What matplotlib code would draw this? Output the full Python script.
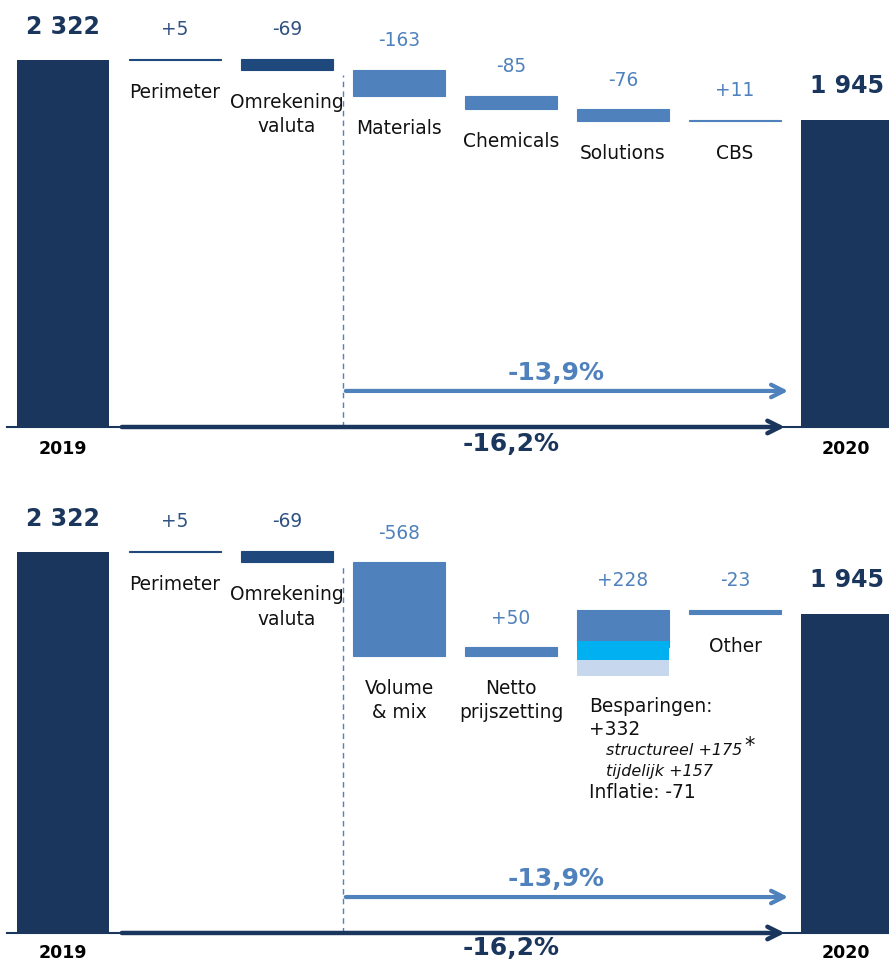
"""Omzetbrug 2019 -> 2020: twee waterfall-panelen (per segment / per driver)."""
import matplotlib
matplotlib.use("Agg")
import matplotlib.pyplot as plt

NAVY = "#1b365d"
NAVY2 = "#1f497d"
BLUE = "#4f81bd"
CYAN = "#00b0f0"
PALE = "#c6d7ee"

start_val, end_val = 2322, 1945
start_lbl, end_lbl = "2 322", "1 945"
years = ["2019", "2020"]

# paneel 1: per segment
top_cats = ["Perimeter", "Omrekening\nvaluta", "Materials", "Chemicals", "Solutions", "CBS"]
top_deltas = [5, -69, -163, -85, -76, 11]
top_delta_lbls = ["+5", "-69", "-163", "-85", "-76", "+11"]
top_colors = [NAVY2, NAVY2, BLUE, BLUE, BLUE, BLUE]

# paneel 2: per driver
bot_cats = ["Perimeter", "Omrekening\nvaluta", "Volume\n& mix", "Netto\nprijszetting", "", "Other"]
bot_deltas = [5, -69, -568, 50, 228, -23]
bot_delta_lbls = ["+5", "-69", "-568", "+50", "+228", "-23"]
bot_colors = [NAVY2, NAVY2, BLUE, BLUE, BLUE, BLUE]
# opsplitsing onder de +228 balk (geschat uit de figuur)
split_vals = [189, 116, 98]
split_colors = [BLUE, CYAN, PALE]

pct_org, pct_tot = "-13,9%", "-16,2%"

W = 0.83
FS = 13.4


def panel(ax, cats, deltas, dlbls, colors, ylim, dash_top, arrow_y, pct_y, tot_y, year_y):
    ax.set_xlim(-0.5625, 7.375)
    ax.set_ylim(*ylim)
    ax.axis("off")

    ax.bar(0, start_val, W, color=NAVY, zorder=3)
    ax.bar(7, end_val, W, color=NAVY, zorder=3)
    for x, v, lbl in [(0, start_val, start_lbl), (7, end_val, end_lbl)]:
        ax.annotate(lbl, (x, v), xytext=(0, 24), textcoords="offset points",
                    ha="center", va="center", fontsize=17, fontweight="bold", color=NAVY)

    level = start_val
    tops = []
    for i, (c, d, lbl, col) in enumerate(zip(cats, deltas, dlbls, colors)):
        x = i + 1
        lo, hi = min(level, level + d), max(level, level + d)
        ax.bar(x, hi - lo, W, bottom=lo, color=col, edgecolor=col, lw=0.8, zorder=3)
        ax.annotate(lbl, (x, hi), xytext=(0, 21), textcoords="offset points",
                    ha="center", va="center", fontsize=FS, color=col if col == BLUE else "#2f5283")
        if c:
            ax.annotate(c, (x, lo), xytext=(0, -16.5), textcoords="offset points",
                        ha="center", va="top", fontsize=FS, color="#111111", linespacing=1.35)
        tops.append((lo, hi))
        level += d

    # as + pijlen
    ax.plot([-0.5, 7.4], [0, 0], color=NAVY, lw=1.5, zorder=2)
    ax.annotate("", xy=(6.47, 0), xytext=(0.5, 0),
                arrowprops=dict(arrowstyle="->,head_length=0.9,head_width=0.45", color=NAVY, lw=3.2),
                zorder=4)
    ax.plot([2.5, 2.5], [0, dash_top], color=BLUE, lw=1, ls=(0, (4, 3)), zorder=2)
    ax.annotate("", xy=(6.5, arrow_y), xytext=(2.5, arrow_y),
                arrowprops=dict(arrowstyle="->,head_length=0.9,head_width=0.45", color=BLUE, lw=3),
                zorder=4)
    ax.text(4.4, pct_y, pct_org, ha="center", va="center", fontsize=18,
            fontweight="bold", color=BLUE)
    ax.text(4.0, tot_y, pct_tot, ha="center", va="center", fontsize=18,
            fontweight="bold", color=NAVY)
    ax.text(0.0, year_y, years[0], ha="center", va="center", fontsize=12.5,
            fontweight="bold", color="black")
    ax.text(6.99, year_y, years[1], ha="center", va="center", fontsize=12.5,
            fontweight="bold", color="black")
    return tops


fig = plt.figure(figsize=(8.89, 9.63), dpi=100)
ax1 = fig.add_axes([0, 1 - 470 / 963, 1, 470 / 963])
ax2 = fig.add_axes([0, 0, 1, 478 / 963])

panel(ax1, top_cats, top_deltas, top_delta_lbls, top_colors, (-272, 2701),
      2226, 228, 342, -108, -139)
tops = panel(ax2, bot_cats, bot_deltas, bot_delta_lbls, bot_colors, (-183, 2730),
             2243, 219, 329, -91, -122)

# opsplitsing besparingen / inflatie onder de +228 balk
lvl = tops[4][1]
for v, col in zip(split_vals, split_colors):
    ax2.bar(5, v, W, bottom=lvl - v, color=col, zorder=3)
    lvl -= v

tx = 4.7
ax2.text(tx, 1440, "Besparingen:\n+332", ha="left", va="top", fontsize=FS,
         color="#111111", linespacing=1.3)
ax2.text(tx + 0.15, 1115, "structureel +175", ha="left", va="center", fontsize=11.5,
         style="italic", color="#111111")
ax2.text(6.08, 1140, "*", ha="left", va="center", fontsize=15, color="#111111")
ax2.text(tx + 0.15, 985, "tijdelijk +157", ha="left", va="center", fontsize=11.5,
         style="italic", color="#111111")
ax2.text(tx, 855, "Inflatie: -71", ha="left", va="center", fontsize=FS, color="#111111")

fig.savefig("out.png", dpi=100)
